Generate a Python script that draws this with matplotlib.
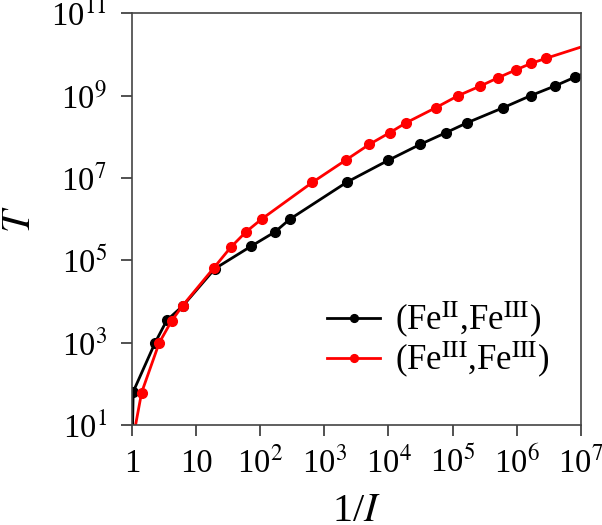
import numpy as np
import matplotlib
matplotlib.use("Agg")
import matplotlib.pyplot as plt

plt.rcParams['font.family'] = ['Liberation Serif', 'DejaVu Serif']
plt.rcParams['mathtext.fontset'] = 'stix'

# (Fe^II, Fe^III) - first and last entries are line ends without marker
x_fe2 = [1.0, 1.05, 2.3, 3.5, 6.3, 19.7, 72, 170, 290, 2275, 1.0e4, 3.1e4, 7.9e4, 1.7e5, 6.2e5, 1.66e6, 3.9e6, 8.1e6, 1.0e7]
y_fe2 = [1.0, 65, 1000, 3500, 8000, 6.3e4, 2.2e5, 4.9e5, 1.0e6, 8.0e6, 2.7e7, 6.5e7, 1.26e8, 2.2e8, 5.1e8, 1.0e9, 1.7e9, 2.8e9, 3.2e9]

# (Fe^III, Fe^III)
x_fe3 = [1.0, 1.42, 2.67, 4.16, 6.2, 19, 35, 60, 105, 650, 2150, 5000, 1.05e4, 1.9e4, 5.5e4, 1.23e5, 2.7e5, 5.1e5, 9.7e5, 1.66e6, 2.85e6, 1.0e7]
y_fe3 = [3.3, 62, 1000, 3400, 8000, 6.6e4, 2.1e5, 4.9e5, 1.0e6, 7.8e6, 2.7e7, 6.5e7, 1.26e8, 2.2e8, 5.1e8, 1.0e9, 1.7e9, 2.7e9, 4.2e9, 6.0e9, 8.0e9, 1.5e10]

x_ticks = [1, 10, 1e2, 1e3, 1e4, 1e5, 1e6, 1e7]
x_labels = ['1', '10', r'10$^2$', r'10$^3$', r'10$^4$', r'10$^5$', r'10$^6$', r'10$^7$']
y_ticks = [1e1, 1e3, 1e5, 1e7, 1e9, 1e11]
y_labels = [r'10$^{1}$', r'10$^{3}$', r'10$^{5}$', r'10$^{7}$', r'10$^{9}$', r'10$^{11}$']

fig = plt.figure(figsize=(6.02, 5.25), dpi=100)
ax = fig.add_axes([0.219, 0.190, 0.746, 0.785])

ax.plot(x_fe2, y_fe2, color='black', lw=2, marker='o', ms=7,
        markevery=list(range(1, len(x_fe2) - 1)),
        label=r'(Fe$^{\mathrm{II}}$,Fe$^{\mathrm{III}}$)')
ax.plot(x_fe3, y_fe3, color='red', lw=2, marker='o', ms=7,
        markevery=list(range(1, len(x_fe3) - 1)),
        label=r'(Fe$^{\mathrm{III}}$,Fe$^{\mathrm{III}}$)')

ax.set_xscale('log')
ax.set_yscale('log')
ax.set_xlim(1, 1e7)
ax.set_ylim(1e1, 1e11)

ax.set_xticks(x_ticks)
ax.set_xticklabels(x_labels)
ax.set_yticks(y_ticks)
ax.set_yticklabels(y_labels)
ax.minorticks_off()
ax.tick_params(direction='out', length=8, width=1.2, labelsize=23.5, color='#333333')
ax.tick_params(axis='x', pad=26)
ax.tick_params(axis='y', pad=10)
for lab in ax.get_xticklabels():
    lab.set_va('baseline')

for s in ax.spines.values():
    s.set_linewidth(1.2)
    s.set_color('#444444')

ax.set_xlabel(r'1/$I$', fontsize=29)
ax.xaxis.set_label_coords(0.5, -0.165)
ax.set_ylabel(r'$T$', fontsize=29)
ax.yaxis.set_label_coords(-0.207, 0.5)

ax.legend(loc='lower right', bbox_to_anchor=(0.985, 0.05), frameon=False, fontsize=25,
          handlelength=1.5, markerscale=0.8, handletextpad=0.45, labelspacing=0.0,
          borderpad=0.2)

fig.savefig('out.png', dpi=100)
